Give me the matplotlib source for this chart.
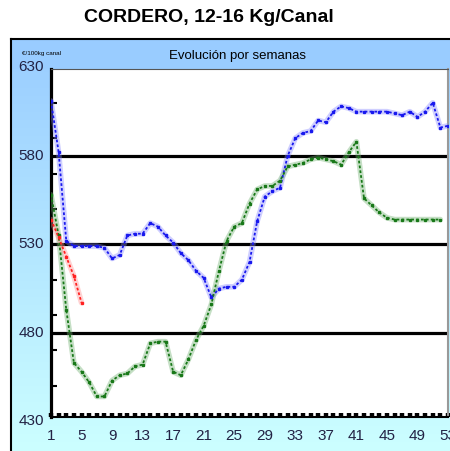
import numpy as np
import matplotlib.pyplot as plt
from matplotlib.patches import Rectangle
from matplotlib.lines import Line2D
from matplotlib.colors import LinearSegmentedColormap

plt.rcParams["font.family"] = ["Liberation Sans", "DejaVu Sans"]

# datos (EUR/100kg canal, por semana)
weeks_blue = list(range(1, 54))
blue = [611, 582, 532, 529, 529, 529, 529, 528, 522, 524,
        535, 536, 536, 542, 540, 535, 531, 525, 521, 515,
        511, 500, 505, 506, 506, 510, 520, 543, 557, 560,
        562, 580, 590, 593, 594, 600, 599, 605, 608, 607,
        605, 605, 605, 605, 605, 604, 603, 605, 602, 605,
        610, 596, 597]
weeks_green = list(range(1, 53))
green = [558, 535, 493, 463, 458, 452, 444, 444, 453, 456,
         457, 461, 462, 474, 475, 475, 458, 456, 465, 476,
         484, 496, 515, 532, 540, 542, 553, 561, 563, 563,
         566, 574, 575, 576, 578, 579, 578, 577, 575, 582,
         588, 556, 552, 548, 545, 544, 544, 544, 544, 544,
         544, 544]
weeks_red = [1, 2, 3, 4, 5]
red = [544, 534, 523, 512, 497]

xticks = list(range(1, 54, 4))
ylabels = [430, 480, 530, 580, 630]
gridvals = [480, 530, 580]

W, H = 450, 451
fig = plt.figure(figsize=(W / 100, H / 100), dpi=100)
fig.patch.set_facecolor("white")

# marco azul con degradado + franja de cabecera
bg = fig.add_axes([11 / W, 0, (W - 11) / W, (H - 39) / H])
cmap = LinearSegmentedColormap.from_list("fondo", ["#99CCFF", "#CCFFFF"])
bg.imshow(np.linspace(0, 1, 256).reshape(-1, 1), aspect="auto", cmap=cmap,
          extent=[0, 1, 0, 1])
bg.add_patch(Rectangle((0, 1 - 29 / (H - 39)), 1, 29 / (H - 39),
                       transform=bg.transAxes, color="#99CCFF"))
bg.set_xlim(0, 1)
bg.set_ylim(0, 1)
bg.axis("off")
fig.lines.append(Line2D([11 / W, 1], [1 - 39 / H] * 2, transform=fig.transFigure,
                        color="black", lw=1.5, zorder=3))
fig.lines.append(Line2D([11 / W] * 2, [0, 1 - 39 / H], transform=fig.transFigure,
                        color="black", lw=1.5, zorder=3))

fig.text(209 / W, 1 - 18 / H, "CORDERO, 12-16 Kg/Canal", ha="center", va="center",
         fontsize=14, fontweight="bold")
fig.text(238 / W, 1 - 56 / H, "Evolución por semanas", ha="center", va="center",
         fontsize=9.5, zorder=4)
fig.text(22 / W, 1 - 54 / H, "€/100kg canal", ha="left", va="center", fontsize=4.5,
         zorder=4)

ax = fig.add_axes([51 / W, (H - 417) / H, (448 - 51) / W, (417 - 69) / H])
ax.set_facecolor("white")
ax.set_xlim(1, 53)
ax.set_ylim(432.4, 629.1)

for v in gridvals:
    ax.axhline(v, color="black", lw=2.3, zorder=2)


def serie(x, y, dark, light):
    ax.plot(x, y, color=light, lw=4, alpha=0.4, solid_capstyle="round", zorder=3)
    ax.plot(x, y, color=dark, lw=1.3, ls=(0, (1.5, 1.2)), zorder=4)
    ax.plot(x, y, ls="none", marker="s", ms=1.4, color=dark, zorder=5)


serie(weeks_blue, blue, "#1818EE", "#8888FF")
serie(weeks_green, green, "#187818", "#70B070")
serie(weeks_red, red, "#FF2020", "#FF9090")

# ejes
ax.spines["left"].set_linewidth(2.3)
ax.spines["left"].set_color("black")
ax.spines["bottom"].set_linewidth(1.5)
ax.spines["top"].set_linewidth(0.8)
ax.spines["top"].set_color("#555555")
ax.spines["right"].set_linewidth(1.5)
ax.spines["right"].set_color("#999999")

ax.set_yticks(range(450, 620, 20))
ax.set_yticklabels([])
ax.tick_params(axis="y", direction="in", length=4, width=1.5, color="black")
ax.set_xticks(xticks)
ax.set_xticklabels([str(t) for t in xticks], fontsize=11, color="#222244")
ax.set_xticks(range(1, 54), minor=True)
ax.tick_params(axis="x", which="both", direction="in", length=3, width=3.2,
               color="black", pad=9)

for v in ylabels:
    ax.text(-0.018, v, str(v), transform=ax.get_yaxis_transform(), ha="right",
            va="center", fontsize=11, color="#222244", clip_on=False)

fig.savefig("out.png", dpi=100)
